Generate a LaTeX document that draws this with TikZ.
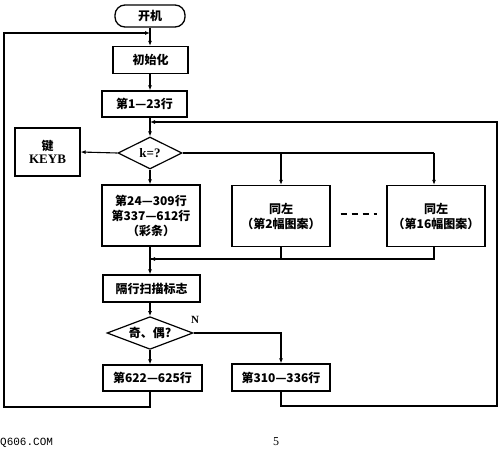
\documentclass[tikz,border=0pt]{standalone}
\usepackage{fontspec}
\setmainfont{Liberation Serif}
\newfontfamily\cjk{Noto Sans CJK SC}
\newfontfamily\monof{Liberation Mono}
\usetikzlibrary{shapes.geometric,arrows.meta}
\begin{document}
\begin{tikzpicture}[x=1pt,y=-1pt,
  every node/.style={font=\cjk\bfseries\fontsize{12}{15}\selectfont},
  box/.style={draw,line width=1.3pt,rectangle,inner sep=0pt,align=center},
  dia/.style={draw,line width=1.2pt,diamond,inner sep=0pt,aspect=2},
  ln/.style={line width=1.1pt},
  arr/.style={line width=1.1pt,-{Latex[length=5pt,width=4pt]}}]
\useasboundingbox (0,0) rectangle (500,453);
% nodes
\node[box,rounded corners=10pt,minimum width=70pt,minimum height=22pt] (start) at (150,16) {开机};
\node[box,minimum width=75pt,minimum height=27pt] (init) at (150.5,60) {初始化};
\node[box,minimum width=85pt,minimum height=26pt] (l123) at (144.5,104) {第1—23行};
\node[dia,minimum width=64pt,minimum height=32pt] (kq) at (150,153) {\rmfamily\bfseries\fontsize{13}{15}\selectfont k=?};
\node[box,minimum width=65pt,minimum height=48pt] (keyb) at (47.5,152) {键\\[-2pt]{\rmfamily\bfseries\fontsize{13}{15}\selectfont KEYB}};
\node[box,minimum width=98pt,minimum height=61pt] (b24) at (151,215.5) {第24—309行\\第337—612行\\（彩条）};
\node[box,minimum width=98pt,minimum height=61pt] (b2) at (281,216) {同左\\（第2幅图案）};
\node[box,minimum width=98pt,minimum height=61pt] (b16) at (436,216) {同左\\（第16幅图案）};
\node[box,minimum width=97pt,minimum height=27pt] (scan) at (151.5,288.5) {隔行扫描标志};
\node[dia,minimum width=86pt,minimum height=28pt] (oe) at (150,333) {奇、偶?};
\node[box,minimum width=99pt,minimum height=26pt] (b622) at (152.5,378) {第622—625行};
\node[box,minimum width=98pt,minimum height=27pt] (b310) at (281,377.5) {第310—336行};
\node[font=\rmfamily\bfseries\fontsize{11}{13}\selectfont] (nlab) at (195,320) {N};
\node[font=\monof\fontsize{11}{13}\selectfont,anchor=west,inner sep=0pt] (site) at (0,443) {Q606.COM};
\node[font=\rmfamily\fontsize{12}{14}\selectfont] (pg) at (276,442) {5};
% coordinates
\coordinate (j1) at (150,33);
\coordinate (j2) at (150,122);
\coordinate (j3) at (150,259);
\coordinate (r1) at (281,153);
\coordinate (r2) at (434,153);
\coordinate (lb) at (4,407);
\coordinate (rb) at (497,406);
% connectors
\draw[arr] (start.south) -- (start.south |- init.north);
\draw[arr] (start.south |- init.south) -- (start.south |- l123.north);
\draw[arr] (start.south |- l123.south) -- (kq.north);
\draw[arr] (kq.west) -- (keyb.east);
\draw[arr] (kq.south) -- (kq.south |- b24.north);
\draw[ln] (kq.east) -- (r2);
\draw[arr] (r2) -- (r2 |- b16.north);
\draw[arr] (r1) -- (b2.north);
\draw[ln,dashed,dash pattern=on 6pt off 5pt] ([xshift=10pt,yshift=2pt]b2.east) -- ([xshift=-9pt,yshift=2pt]b16.west);
\draw[ln] (r2 |- b16.south) |- (j3);
\draw[arr] (b2.south) |- (j3);
\draw[arr] (kq.south |- b24.south) -- (kq.south |- scan.north);
\draw[arr] (kq.south |- scan.south) -- (oe.north);
\draw[arr] (oe.south) -- (oe.south |- b622.north);
\draw[arr] (oe.east) -| (b310.north);
\draw[arr] (b310.south) |- (rb) |- (j2);
\draw[arr] (oe.south |- b622.south) |- (lb) |- (j1);
\end{tikzpicture}
\end{document}
